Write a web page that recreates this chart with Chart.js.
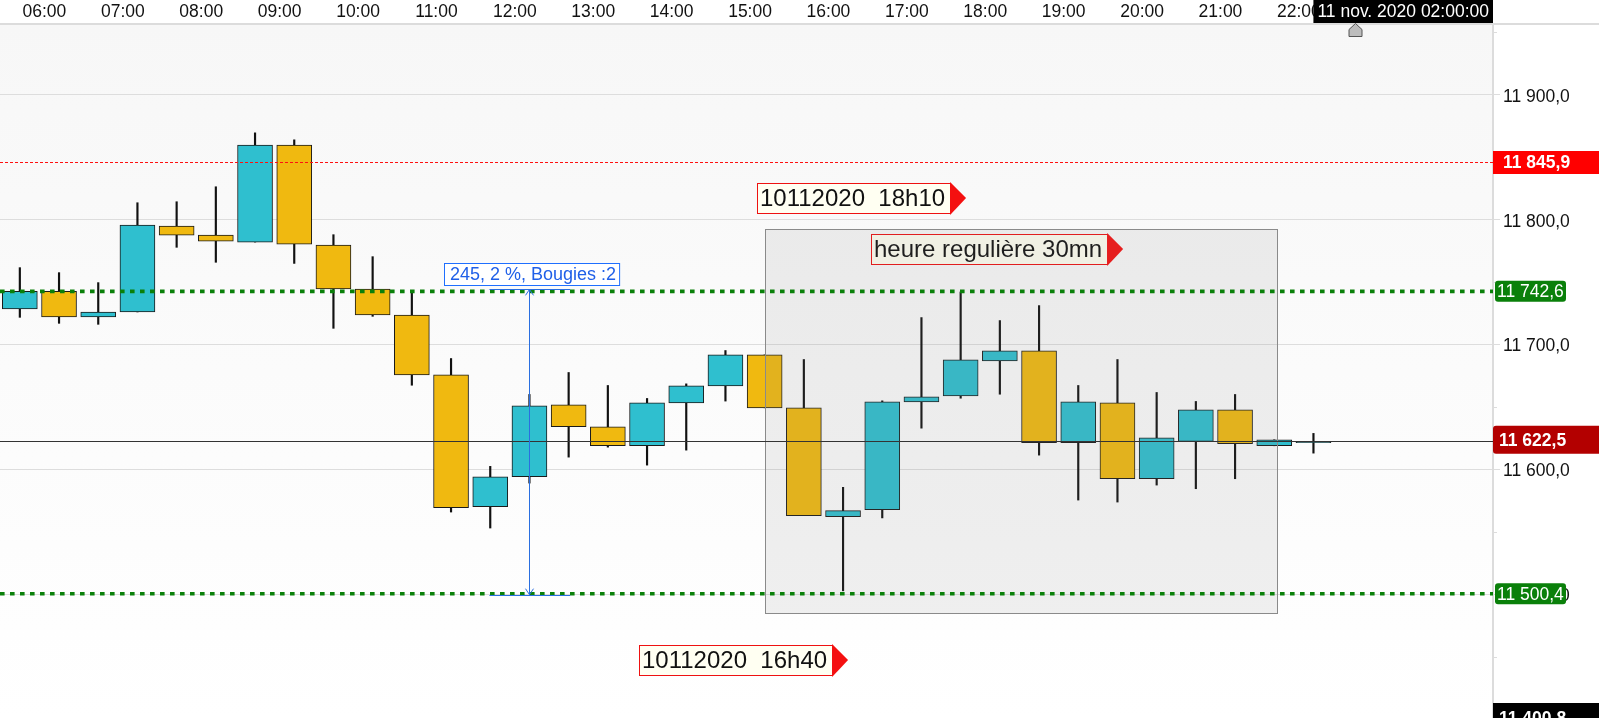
<!DOCTYPE html>
<html>
<head>
<meta charset="utf-8">
<script src="https://cdn.jsdelivr.net/npm/chart.js@4.4.0/dist/chart.umd.min.js"></script>
<style>
  html, body { margin: 0; padding: 0; background: #fff; overflow: hidden; }
  #wrap { width: 1599px; height: 718px; position: relative; }
</style>
</head>
<body>
<div id="wrap"><canvas id="chart"></canvas></div>
<script>
// 30 minute candles, 10 nov. 2020
const candleTimes = ['05:30', '06:00', '06:30', '07:00', '07:30', '08:00', '08:30', '09:00', '09:30', '10:00',
  '10:30', '11:00', '11:30', '12:00', '12:30', '13:00', '13:30', '14:00', '14:30', '15:00',
  '15:30', '16:00', '16:30', '17:00', '17:30', '18:00', '18:30', '19:00', '19:30', '20:00',
  '20:30', '21:00', '21:30', '22:00'];
const opens = [11728.6, 11742.6, 11722.1, 11726.1, 11794.9, 11787.7, 11782.1, 11859.7, 11779.7, 11744.5,
  11723.7, 11675.7, 11570.1, 11594.1, 11651.7, 11634.1, 11618.9, 11653.3, 11666.9, 11691.7,
  11649.3, 11562.1, 11567.7, 11654.1, 11658.9, 11686.9, 11694.9, 11621.3, 11653.3, 11592.5,
  11622.4, 11647.7, 11618.9, 11621.3];
const highs = [11761.6, 11757.6, 11749.6, 11813.6, 11814.4, 11826.4, 11869.6, 11864.0, 11788.0, 11770.4,
  11743.2, 11688.8, 11602.4, 11660.0, 11677.6, 11667.2, 11656.8, 11668.5, 11695.2, 11691.7,
  11688.0, 11585.6, 11654.9, 11721.6, 11742.1, 11719.2, 11731.2, 11667.2, 11688.0, 11661.6,
  11654.4, 11660.0, 11623.7, 11628.8];
const lows = [11721.8, 11717.0, 11716.2, 11726.1, 11777.9, 11765.9, 11782.1, 11765.0, 11713.0, 11722.6,
  11667.4, 11565.8, 11553.0, 11589.0, 11609.8, 11617.8, 11603.4, 11615.4, 11654.7, 11649.3,
  11562.9, 11502.7, 11561.1, 11633.0, 11657.0, 11660.2, 11611.4, 11575.4, 11573.8, 11587.4,
  11584.5, 11592.5, 11618.9, 11613.0];
const closes = [11742.6, 11722.1, 11726.1, 11795.7, 11787.7, 11782.9, 11859.7, 11780.5, 11744.5, 11723.7,
  11675.7, 11569.3, 11594.1, 11650.9, 11634.1, 11618.9, 11653.3, 11666.9, 11691.7, 11649.3,
  11562.9, 11566.9, 11654.1, 11658.1, 11687.7, 11694.9, 11621.3, 11654.1, 11592.5, 11625.3,
  11647.7, 11620.5, 11623.7, 11622.5];

const hourLabels = ['06:00', '07:00', '08:00', '09:00', '10:00', '11:00', '12:00', '13:00', '14:00',
  '15:00', '16:00', '17:00', '18:00', '19:00', '20:00', '21:00', '22:00'];
const yTickValues = [11500, 11600, 11700, 11800, 11900];
const yMinorTicks = [11450, 11550, 11650, 11750, 11850, 11950];

const resistance = 11845.9;
const levelHigh = 11742.6;
const levelLow = 11500.4;
const lastPrice = 11622.5;
const axisBottomValue = 11400.8;
const crosshairDate = '11 nov. 2020 02:00:00';

const UP = '#2fbfcf';
const DOWN = '#f0b910';
const FONT = '"Liberation Sans", Arial, sans-serif';

const toHour = s => { const p = s.split(':').map(Number); return p[0] + p[1] / 60; };
// candles sit in the middle of their 30 mn slot
const candleX = candleTimes.map(t => toHour(t) + 0.25);
const hourValues = hourLabels.map(toHour);

function fmt(v) {
  const s = v.toFixed(1).split('.');
  return s[0].replace(/\B(?=(\d{3})+(?!\d))/g, ' ') + ',' + s[1];
}

function callout(ctx, text, x, yc) {
  ctx.font = '24px ' + FONT;
  const w = ctx.measureText(text).width + 8;
  const h = 30, top = Math.round(yc - h / 2);
  x = Math.round(x);
  ctx.fillStyle = '#fffff2';
  ctx.fillRect(x, top, w, h);
  ctx.strokeStyle = '#ee1111';
  ctx.lineWidth = 1;
  ctx.strokeRect(x + 0.5, top + 0.5, w, h);
  ctx.fillStyle = '#f41010';
  ctx.beginPath();
  ctx.moveTo(x + w, top - 1);
  ctx.lineTo(x + w + 16, top + h / 2);
  ctx.lineTo(x + w, top + h + 2);
  ctx.closePath();
  ctx.fill();
  ctx.fillStyle = '#111';
  ctx.textBaseline = 'middle';
  ctx.textAlign = 'left';
  ctx.fillText(text, x + 3, top + h / 2 + 1);
}

function hLine(ctx, area, y, color, width, dash) {
  ctx.save();
  ctx.strokeStyle = color;
  ctx.lineWidth = width;
  ctx.setLineDash(dash);
  ctx.beginPath();
  ctx.moveTo(area.left, y);
  ctx.lineTo(area.right, y);
  ctx.stroke();
  ctx.restore();
}

function priceTag(ctx, text, x, y, w, h, fill, bold, radius, tx) {
  ctx.fillStyle = fill;
  ctx.beginPath();
  if (ctx.roundRect) ctx.roundRect(x, y - h / 2, w, h, radius); else ctx.rect(x, y - h / 2, w, h);
  ctx.fill();
  ctx.fillStyle = '#fff';
  ctx.font = (bold ? 'bold ' : '') + '17.5px ' + FONT;
  ctx.textAlign = 'left';
  ctx.textBaseline = 'middle';
  ctx.fillText(text, tx, y + 1);
}

const overlays = {
  id: 'overlays',
  beforeDraw(chart) {
    const { ctx, chartArea: a } = chart;
    const g = ctx.createLinearGradient(0, a.top, 0, a.bottom);
    g.addColorStop(0, '#f7f7f7');
    g.addColorStop(1, '#ffffff');
    ctx.save();
    ctx.fillStyle = g;
    ctx.fillRect(a.left, a.top, a.right - a.left, a.bottom - a.top);
    ctx.restore();
  },
  afterDatasetsDraw(chart) {
    const { ctx, chartArea: a, scales: { x, y } } = chart;
    ctx.save();
    ctx.beginPath();
    ctx.rect(a.left, a.top, a.right - a.left, a.bottom - a.top);
    ctx.clip();

    callout(ctx, '10112020  18h10', x.getPixelForValue(15.152), y.getPixelForValue(11817.2));
    callout(ctx, 'heure regulière 30mn', x.getPixelForValue(16.606), y.getPixelForValue(11776.3));
    callout(ctx, '10112020  16h40', x.getPixelForValue(13.651), y.getPixelForValue(11447));

    // regular session box
    const bx0 = Math.round(x.getPixelForValue(15.25)), bx1 = Math.round(x.getPixelForValue(21.78));
    const by0 = Math.round(y.getPixelForValue(11792.6)), by1 = Math.round(y.getPixelForValue(11484.8));
    ctx.fillStyle = 'rgba(128,128,128,0.12)';
    ctx.fillRect(bx0, by0, bx1 - bx0, by1 - by0);
    ctx.strokeStyle = '#8a8a8a';
    ctx.lineWidth = 1;
    ctx.strokeRect(bx0 + 0.5, by0 + 0.5, bx1 - bx0, by1 - by0);

    hLine(ctx, a, Math.round(y.getPixelForValue(resistance)) + 0.5, '#ff1010', 1, [3, 2]);
    hLine(ctx, a, y.getPixelForValue(levelHigh), '#0a800a', 3.6, [4.6, 5.4]);
    hLine(ctx, a, y.getPixelForValue(levelLow), '#0a800a', 3.6, [4.6, 5.4]);
    hLine(ctx, a, Math.round(y.getPixelForValue(lastPrice)) + 0.5, '#333', 1.2, []);

    // measuring tool
    const mx = Math.round(x.getPixelForValue(12.25)) + 0.5;
    const mTop = y.getPixelForValue(levelHigh) - 2, mBot = y.getPixelForValue(levelLow) + 1;
    const cL = x.getPixelForValue(11.74), cR = x.getPixelForValue(12.77);
    ctx.strokeStyle = '#2a6fe0';
    ctx.lineWidth = 1;
    ctx.beginPath();
    ctx.moveTo(mx, mTop); ctx.lineTo(mx, mBot);
    ctx.moveTo(cL, Math.round(mTop) + 0.5); ctx.lineTo(cR, Math.round(mTop) + 0.5);
    ctx.moveTo(cL, Math.round(mBot) + 0.5); ctx.lineTo(cR, Math.round(mBot) + 0.5);
    ctx.moveTo(mx - 4, mTop + 6); ctx.lineTo(mx, mTop); ctx.lineTo(mx + 4, mTop + 6);
    ctx.moveTo(mx - 4, mBot - 6); ctx.lineTo(mx, mBot); ctx.lineTo(mx + 4, mBot - 6);
    ctx.stroke();
    ctx.font = '18px ' + FONT;
    const mText = '245, 2 %, Bougies :2';
    const lx = Math.round(x.getPixelForValue(11.164)), ly = Math.round(y.getPixelForValue(11765.4));
    const lw = ctx.measureText(mText).width + 9;
    ctx.fillStyle = '#fff';
    ctx.fillRect(lx, ly, lw, 22);
    ctx.strokeStyle = '#1f6fff';
    ctx.strokeRect(lx + 0.5, ly + 0.5, lw, 22);
    ctx.fillStyle = '#1f5fe8';
    ctx.textAlign = 'left';
    ctx.textBaseline = 'middle';
    ctx.fillText(mText, lx + 6, ly + 12);
    ctx.restore();
  },
  afterDraw(chart) {
    const { ctx, chartArea: a, scales: { x, y }, width } = chart;
    ctx.save();
    // axis separator continues under the price scale
    ctx.strokeStyle = '#dcdcdc';
    ctx.lineWidth = 2;
    ctx.beginPath();
    ctx.moveTo(a.right, a.top);
    ctx.lineTo(width, a.top);
    ctx.stroke();
    // minor ticks
    ctx.lineWidth = 1;
    ctx.beginPath();
    yMinorTicks.forEach(v => {
      const py = Math.round(y.getPixelForValue(v)) + 0.5;
      ctx.moveTo(a.right, py); ctx.lineTo(a.right + 4, py);
    });
    ctx.stroke();

    priceTag(ctx, fmt(resistance), a.right, y.getPixelForValue(resistance), width - a.right, 23, '#ff0000', true, 0, a.right + 10);
    priceTag(ctx, fmt(levelHigh), a.right + 2, y.getPixelForValue(levelHigh), 71, 21, '#0a800a', false, 3, a.right + 4);
    priceTag(ctx, fmt(levelLow), a.right + 2, y.getPixelForValue(levelLow), 71, 21, '#0a800a', false, 3, a.right + 4);
    priceTag(ctx, fmt(lastPrice), a.right, y.getPixelForValue(lastPrice) - 1.5, width - a.right, 28, '#b30000', true, [3, 0, 0, 3], a.right + 6);
    priceTag(ctx, fmt(axisBottomValue), a.right, y.getPixelForValue(axisBottomValue), width - a.right, 30, '#000', true, 0, a.right + 6);

    // time cursor
    ctx.font = '17.5px ' + FONT;
    const tw = ctx.measureText(crosshairDate).width + 8;
    ctx.fillStyle = '#000';
    ctx.fillRect(a.right - tw, 0, tw, 23);
    ctx.fillStyle = '#fff';
    ctx.textAlign = 'center';
    ctx.textBaseline = 'middle';
    ctx.fillText(crosshairDate, a.right - tw / 2, 12);
    const px = Math.round(x.getPixelForValue(22.786)) + 0.5;
    ctx.fillStyle = '#bdbdbd';
    ctx.strokeStyle = '#555';
    ctx.lineWidth = 1;
    ctx.beginPath();
    ctx.moveTo(px, 23.5);
    ctx.lineTo(px + 6.5, 29.5);
    ctx.lineTo(px + 6.5, 36.5);
    ctx.lineTo(px - 6.5, 36.5);
    ctx.lineTo(px - 6.5, 29.5);
    ctx.closePath();
    ctx.fill();
    ctx.stroke();
    ctx.restore();
  }
};

new Chart(document.getElementById('chart'), {
  type: 'bar',
  data: {
    datasets: [
      {
        label: 'body',
        data: candleX.map((cx, i) => ({ x: cx, y: [opens[i], closes[i]] })),
        backgroundColor: c => closes[c.dataIndex] >= opens[c.dataIndex] ? UP : DOWN,
        borderColor: '#1a1a1a',
        borderWidth: 1,
        borderSkipped: false,
        barThickness: 35,
        grouped: false,
        order: 1,
      },
      {
        label: 'wick',
        data: candleX.map((cx, i) => ({ x: cx, y: [lows[i], highs[i]] })),
        backgroundColor: '#111',
        borderWidth: 0,
        barThickness: 1.5,
        grouped: false,
        order: 2,
      },
    ],
  },
  options: {
    responsive: true,
    maintainAspectRatio: false,
    animation: false,
    layout: { padding: 0 },
    plugins: { legend: { display: false }, tooltip: { enabled: false } },
    scales: {
      x: {
        type: 'linear',
        position: 'top',
        min: 5.497,
        max: 24.54,
        offset: false,
        afterBuildTicks: s => { s.ticks = hourValues.map(v => ({ value: v })); },
        afterFit: s => { s.height = 24; s.paddingLeft = 0; s.paddingRight = 0; },
        ticks: {
          callback: (v, i) => hourLabels[i],
          autoSkip: false,
          maxRotation: 0,
          labelOffset: 5,
          padding: -6.5,
          color: '#111',
          font: { family: FONT, size: 17.5 },
        },
        grid: { display: false, offset: false },
        border: { color: '#dcdcdc', width: 2 },
      },
      y: {
        position: 'right',
        min: axisBottomValue,
        max: 11956.8,
        afterBuildTicks: s => { s.ticks = yTickValues.map(v => ({ value: v })); },
        afterFit: s => { s.width = 106; s.paddingTop = 0; s.paddingBottom = 0; },
        ticks: {
          callback: v => fmt(v),
          padding: 3,
          labelOffset: 2,
          color: '#111',
          font: { family: FONT, size: 17.5 },
        },
        grid: { color: '#dddddd', tickColor: '#dddddd', tickLength: 7, lineWidth: 1 },
        border: { color: '#dcdcdc', width: 2 },
      },
    },
  },
  plugins: [overlays],
});
</script>
</body>
</html>
